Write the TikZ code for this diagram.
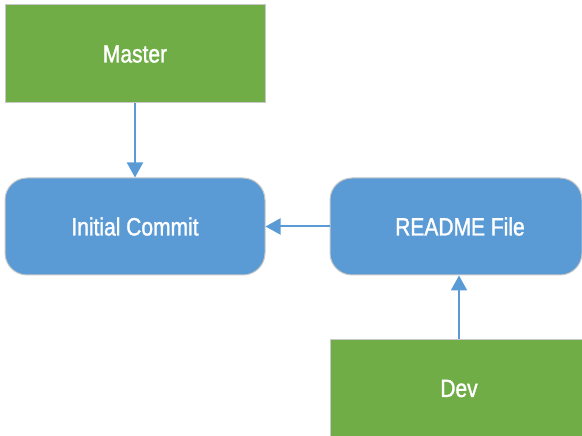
\documentclass[tikz,border=0pt]{standalone}
\usepackage{fontspec}
\setmainfont[FakeStretch=0.84, FakeBold=1.3]{Liberation Sans}
\usepackage{tikz}
\usetikzlibrary{arrows.meta,positioning}
\definecolor{branchgreen}{HTML}{70AD47}
\definecolor{commitblue}{HTML}{5B9BD5}
\definecolor{edgegray}{HTML}{C8C8C8}
\tikzset{
  branch/.style={draw=edgegray, line width=1pt, fill=branchgreen, text=white, minimum width=260pt, minimum height=98pt, font=\fontsize{25}{29}\selectfont},
  commit/.style={draw=edgegray, line width=1pt, fill=commitblue, text=white, rounded corners=22pt, minimum height=97pt, font=\fontsize{25}{29}\selectfont},
  arrow/.style={-{Triangle[length=15pt, width=16pt]}, line width=2pt, draw=commitblue}
}
\begin{document}
\begin{tikzpicture}[x=1pt,y=1pt]
  \useasboundingbox (0,0) rectangle (582,436);
  \clip (0,0) rectangle (582,436);
  \node[branch] (master) at (135,382) {Master};
  \node[commit, minimum width=260pt] (initial) at (135,209.5) {Initial Commit};
  \node[commit, minimum width=252pt] (readme) at (456,209.5) {\hspace{8pt}README File};
  \node[branch, minimum width=252pt] (dev) at (456,47.5) {\hspace{6pt}Dev};
  \draw[arrow] (master) -- (initial);
  \draw[arrow] (readme) -- (initial);
  \draw[arrow] ([xshift=3pt]dev.north) -- ([xshift=3pt]readme.south);
\end{tikzpicture}
\end{document}
